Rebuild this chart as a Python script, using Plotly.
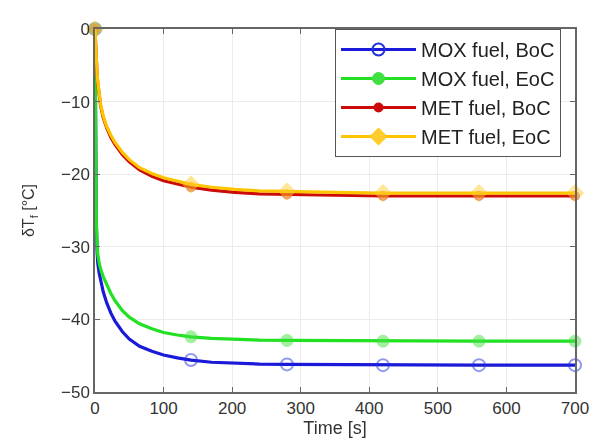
import plotly.graph_objects as go

# Time axis [s]
time_s = [0, 0.5, 1, 2, 3, 4, 6, 8, 12, 17, 23, 29, 40, 50, 65, 83, 100, 120,
          140, 170, 204, 240, 280, 350, 420, 490, 560, 630, 700]

mox_boc = [0, -12, -20, -27, -30.5, -32.2, -33.6, -34.6, -36.2, -37.7, -39.1, -40.2,
           -41.7, -42.7, -43.7, -44.4, -44.9, -45.3, -45.6, -45.9, -46.05, -46.15,
           -46.2, -46.25, -46.3, -46.3, -46.3, -46.3, -46.3]
mox_eoc = [0, -12, -20, -26.5, -29.5, -31, -32.2, -33.0, -34.1, -35.2, -36.4, -37.4,
           -38.8, -39.7, -40.6, -41.3, -41.8, -42.15, -42.4, -42.6, -42.75, -42.85,
           -42.9, -42.95, -43.0, -43.0, -43.0, -43.0, -43.0]
met_boc = [0, -1.5, -2.8, -4.8, -6.2, -7.4, -9.2, -10.5, -12.2, -13.6, -14.9, -15.9,
           -17.3, -18.3, -19.4, -20.3, -20.9, -21.4, -21.8, -22.2, -22.5, -22.7,
           -22.8, -22.9, -23.0, -23.0, -23.0, -23.0, -23.0]
met_eoc = [0, -1.5, -2.7, -4.7, -6.0, -7.2, -9.0, -10.3, -12.0, -13.4, -14.6, -15.6,
           -17.0, -18.0, -19.1, -19.9, -20.5, -21.0, -21.4, -21.8, -22.1, -22.3,
           -22.4, -22.5, -22.6, -22.6, -22.6, -22.6, -22.6]

marker_times = [0, 140, 280, 420, 560, 700]

series_names = ["MOX fuel, BoC", "MOX fuel, EoC", "MET fuel, BoC", "MET fuel, EoC"]
x_ticks = [0, 100, 200, 300, 400, 500, 600, 700]
y_ticks = [-50, -40, -30, -20, -10, 0]

series = [
    (series_names[0], mox_boc, "#1a1ad8", dict(symbol="circle-open", size=12, color="#2030e0", line=dict(width=2))),
    (series_names[1], mox_eoc, "#22e022", dict(symbol="circle", size=12, color="#40e040", line=dict(width=1, color="#40e040"))),
    (series_names[2], met_boc, "#cc0a0a", dict(symbol="circle", size=10, color="#cc0a0a")),
    (series_names[3], met_eoc, "#ffc400", dict(symbol="diamond", size=13, color="#ffcc30", line=dict(width=1, color="#ffc400"))),
]

fig = go.Figure()
for name, ys, color, mk in series:
    fig.add_trace(go.Scatter(x=time_s, y=ys, mode="lines", line=dict(color=color, width=3.2),
                             showlegend=False, cliponaxis=False, hoverinfo="skip"))
    mx = list(marker_times)
    my = [ys[time_s.index(t)] for t in marker_times]
    fig.add_trace(go.Scatter(x=mx, y=my, mode="markers", marker=mk, opacity=0.5,
                             showlegend=False, cliponaxis=False))
    fig.add_trace(go.Scatter(x=[None], y=[None], mode="lines+markers", name=name,
                             line=dict(color=color, width=3.2), marker=mk))

# page body has an 8px default margin, so the figure is sized to fit the 601x447 window
fig.update_layout(
    width=593, height=439,
    margin=dict(l=87, r=25, t=13, b=48),
    paper_bgcolor="white", plot_bgcolor="white",
    font=dict(family="Liberation Sans, Arial, sans-serif", size=17, color="#333"),
    legend=dict(x=0.50, y=1.0, xanchor="left", yanchor="top",
                bgcolor="white", bordercolor="#555", borderwidth=1,
                font=dict(size=20, color="#222"), itemwidth=75,
                tracegroupgap=0),
    xaxis=dict(range=[0, 700], tickvals=x_ticks, showgrid=True, gridcolor="#ececec",
               showline=True, linecolor="#666", linewidth=1.5, mirror="allticks",
               ticks="inside", ticklen=5, tickcolor="#666", zeroline=False,
               title=dict(text="Time [s]", font=dict(size=18), standoff=4)),
    yaxis=dict(range=[-50, 0], tickvals=y_ticks, showgrid=True, gridcolor="#ececec",
               showline=True, linecolor="#666", linewidth=1.5, mirror="allticks",
               ticks="inside", ticklen=5, tickcolor="#666", zeroline=False,
               title=dict(text="δT<sub>f</sub> [°C]", font=dict(size=16), standoff=22)),
)

fig.write_html("out.html")
